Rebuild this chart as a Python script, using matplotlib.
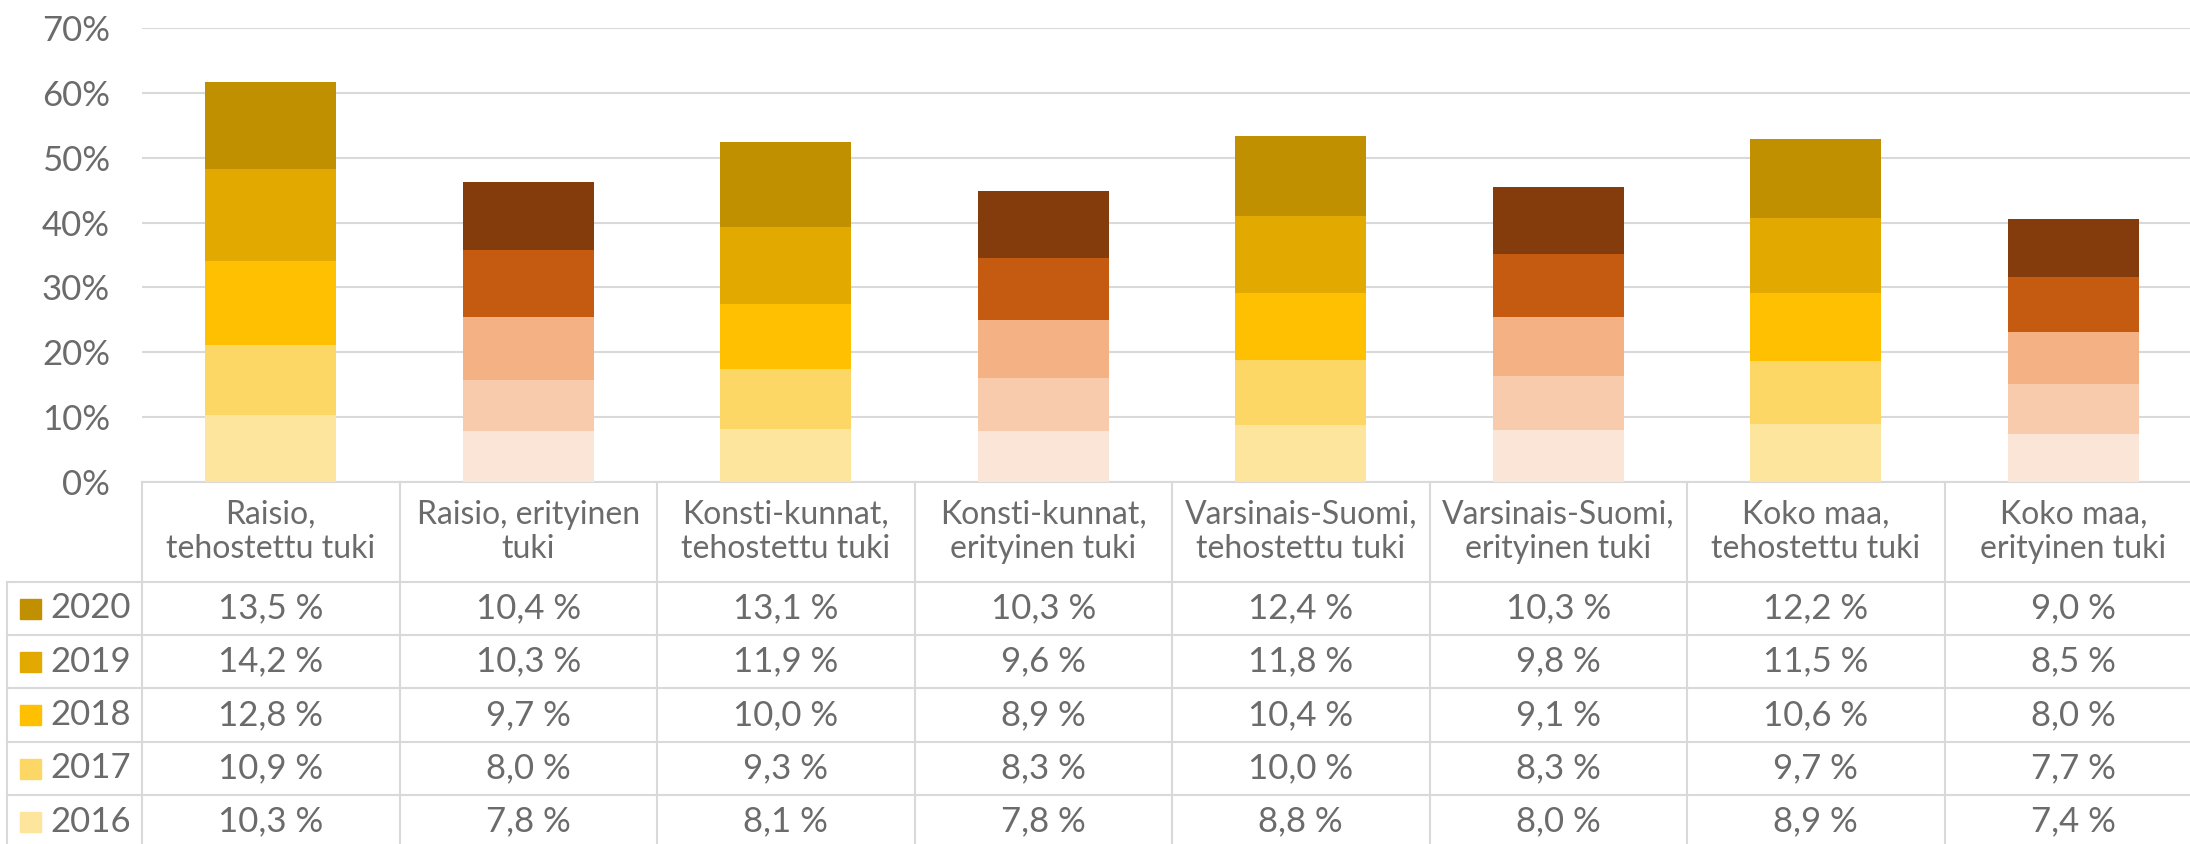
import matplotlib
matplotlib.use("Agg")
import matplotlib.pyplot as plt
from matplotlib.patches import Rectangle
from matplotlib.transforms import blended_transform_factory

categories = ["Raisio,\ntehostettu tuki", "Raisio, erityinen\ntuki",
              "Konsti-kunnat,\ntehostettu tuki", "Konsti-kunnat,\nerityinen tuki",
              "Varsinais-Suomi,\ntehostettu tuki", "Varsinais-Suomi,\nerityinen tuki",
              "Koko maa,\ntehostettu tuki", "Koko maa,\nerityinen tuki"]
years = ["2016", "2017", "2018", "2019", "2020"]
v2016 = [10.3, 7.8, 8.1, 7.8, 8.8, 8.0, 8.9, 7.4]
v2017 = [10.9, 8.0, 9.3, 8.3, 10.0, 8.3, 9.7, 7.7]
v2018 = [12.8, 9.7, 10.0, 8.9, 10.4, 9.1, 10.6, 8.0]
v2019 = [14.2, 10.3, 11.9, 9.6, 11.8, 9.8, 11.5, 8.5]
v2020 = [13.5, 10.4, 13.1, 10.3, 12.4, 10.3, 12.2, 9.0]
series = [v2016, v2017, v2018, v2019, v2020]

# yellow palette for "tehostettu", orange/brown for "erityinen"
yellow = ["#FDE59D", "#FCD765", "#FEC000", "#E2A900", "#C09000"]
orange = ["#FBE5D6", "#F8CBAD", "#F4B183", "#C55A11", "#843C0C"]

txt = "#6B6B6B"
grid = "#D9D9D9"
fw = 'normal'
plt.rcParams['font.family'] = ['Lato', 'DejaVu Sans']

W, H = 2190, 844
fig = plt.figure(figsize=(W / 100, H / 100), dpi=100)
x0, x1, ytop, ybase = 142, 2202, 28, 482
ax = fig.add_axes([x0 / W, 1 - ybase / H, (x1 - x0) / W, (ybase - ytop) / H])

n = len(categories)
xs = list(range(n))
bottom = [0.0] * n
for i, vals in enumerate(series):
    cols = [yellow[i] if k % 2 == 0 else orange[i] for k in range(n)]
    ax.bar(xs, vals, width=0.51, bottom=bottom, color=cols, zorder=3)
    bottom = [b + v for b, v in zip(bottom, vals)]

ax.set_xlim(-0.5, n - 0.5)
ax.set_ylim(0, 70)
ax.set_yticks(range(0, 71, 10))
ax.set_yticklabels([f"{t}%" for t in range(0, 71, 10)], fontsize=25,
                   color=txt, fontweight=fw)
ax.set_xticks([])
ax.tick_params(axis='y', length=0, pad=23)
ax.grid(axis='y', color=grid, linewidth=1.5, zorder=0)
for s in ax.spines.values():
    s.set_visible(False)

# data table below the bars
tr = blended_transform_factory(ax.transData, fig.transFigure)
colw = (x1 - x0) / n
left_px = 7
left_x = -0.5 - (x0 - left_px) / colw
rows = [482, 582, 635, 688, 742, 795, 848]
fy = lambda p: 1 - p / H

ax.plot([-0.5, n - 0.5], [fy(rows[0])] * 2, transform=tr, color=grid,
        lw=1.5, clip_on=False)
for r in rows[1:]:
    ax.plot([left_x, n - 0.5], [fy(r)] * 2, transform=tr, color=grid,
            lw=1.5, clip_on=False)
for k in range(n + 1):
    ax.plot([k - 0.5] * 2, [fy(rows[0]), fy(rows[-1])], transform=tr,
            color=grid, lw=1.5, clip_on=False)
ax.plot([left_x] * 2, [fy(rows[1]), fy(rows[-1])], transform=tr,
        color=grid, lw=1.5, clip_on=False)

for k, c in enumerate(categories):
    ax.text(k, fy((rows[0] + rows[1]) / 2), c, transform=tr, ha='center',
            va='center', fontsize=23, color=txt, fontweight=fw,
            linespacing=1.2)

for j in range(5):
    i = 4 - j
    yc = (rows[j + 1] + rows[j + 2]) / 2
    fig.patches.append(Rectangle((20 / W, fy(yc + 10)), 21 / W, 20 / H,
                                 transform=fig.transFigure, color=yellow[i]))
    fig.text(50 / W, fy(yc), years[i], ha='left', va='center', fontsize=25,
             color=txt, fontweight=fw)
    for k in range(n):
        s = f"{series[i][k]:.1f} %".replace('.', ',')
        ax.text(k, fy(yc), s, transform=tr, ha='center', va='center',
                fontsize=25, color=txt, fontweight=fw)

fig.savefig("out.png", dpi=100)
